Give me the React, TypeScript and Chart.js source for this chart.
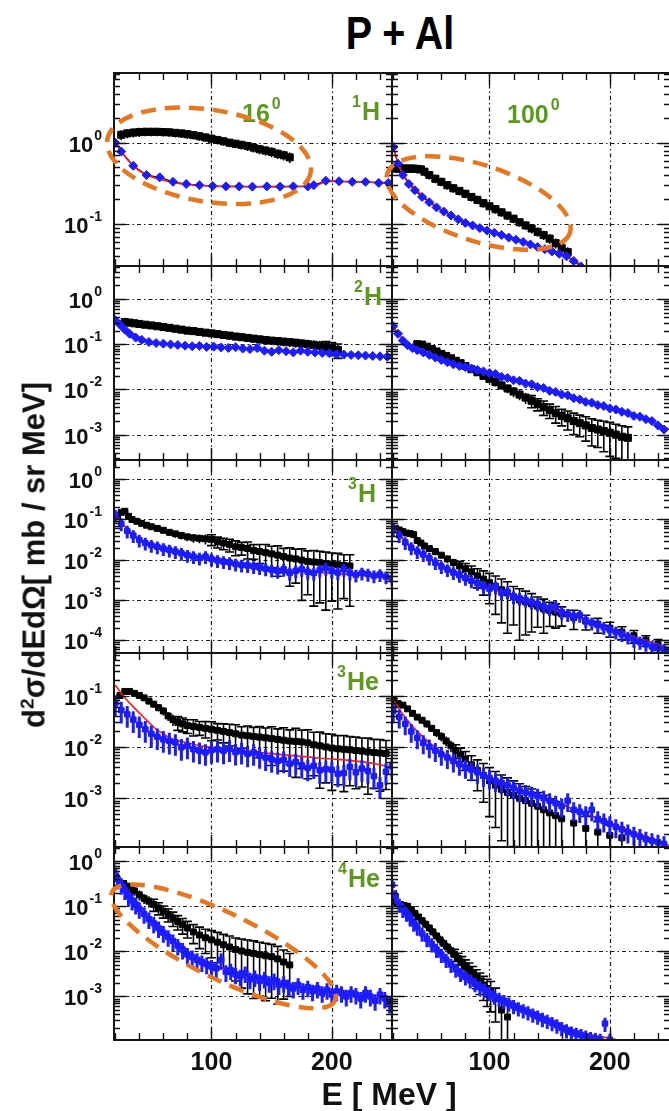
import React, { useEffect, useRef } from "react";
import { Chart, registerables } from "chart.js";
Chart.register(...registerables);

const FONT = '"Liberation Sans", Arial, Helvetica, sans-serif';
const GREEN = "#5b9a1c";
const ORANGE = "#e8761e";
const BLUE = "#1c1cff";
const RED = "#ff1a1a";

// ---- axes ----
const X_MIN = 19;
const X_MAX = 250;
const X_TICKS = [100, 200];
const X_TICK_LABELS = ["100", "200"];
const X_MINOR_TICKS = [20, 40, 60, 80, 120, 140, 160, 180, 220, 240];
const Y_MIN = [0.0304, 2.75e-4, 4.83e-5, 1.13e-4, 1.08e-4];
const Y_MAX = [7.2, 5.37, 3.0, 0.671, 2.07];
const Y_TICKS = [
  [1, 0.1],
  [1, 0.1, 0.01, 0.001],
  [1, 0.1, 0.01, 0.001, 0.0001],
  [0.1, 0.01, 0.001],
  [1, 0.1, 0.01, 0.001],
];
const Y_TICK_EXPONENTS = [
  ["0", "-1"],
  ["0", "-1", "-2", "-3"],
  ["0", "-1", "-2", "-3", "-4"],
  ["-1", "-2", "-3"],
  ["0", "-1", "-2", "-3"],
];

// ---- layout (page pixels) ----
const COL_LEFT = [114, 392];
const COL_RIGHT = [392, 670];
const ROW_TOP = [73, 266, 460, 653, 847];
const ROW_BOTTOM = [266, 460, 653, 847, 1040];

// ---- data: 1H 16 deg ----
const H1_16_EXP_E = [25, 30, 35, 40, 45, 50, 55, 60, 65, 70, 75, 80, 85, 90, 95, 100, 105, 110, 115, 120, 125, 130, 135, 140, 145, 150, 155, 160, 165];
const H1_16_EXP_V = [1.25, 1.3, 1.33, 1.35, 1.36, 1.36, 1.36, 1.35, 1.34, 1.32, 1.3, 1.27, 1.24, 1.2, 1.16, 1.12, 1.08, 1.04, 1.0, 0.97, 0.94, 0.91, 0.87, 0.83, 0.8, 0.77, 0.73, 0.7, 0.66];
const H1_16_EXP_ERR = [0.14, 0.13, 0.13, 0.13, 0.12, 0.12, 0.12, 0.12, 0.12, 0.12, 0.12, 0.12, 0.12, 0.12, 0.12, 0.12, 0.12, 0.12, 0.12, 0.12, 0.12, 0.13, 0.13, 0.13, 0.13, 0.14, 0.14, 0.14, 0.15];
const H1_16_BLUE_E = [20, 25, 35, 46, 57, 68, 79, 90, 101, 112, 123, 134, 146, 157, 168, 180, 185, 195, 206, 217, 228, 239, 247];
const H1_16_BLUE_V = [1.0, 0.78, 0.52, 0.4, 0.375, 0.33, 0.31, 0.3, 0.293, 0.29, 0.29, 0.288, 0.29, 0.288, 0.29, 0.29, 0.3, 0.34, 0.335, 0.33, 0.33, 0.32, 0.32];
const H1_16_RED_E = [20, 23, 26, 30, 35, 40, 46, 52, 60, 70, 80, 90, 100, 120, 140, 160, 180, 188, 194, 200, 220, 250];
const H1_16_RED_V = [1.05, 0.88, 0.74, 0.62, 0.52, 0.45, 0.4, 0.37, 0.345, 0.32, 0.305, 0.297, 0.292, 0.288, 0.287, 0.288, 0.29, 0.3, 0.33, 0.335, 0.33, 0.32];

// ---- data: 1H 100 deg ----
const H1_100_EXP_E = [22, 25, 28, 31, 34, 37, 40, 43, 46, 50, 55, 60, 65, 70, 75, 80, 85, 90, 95, 100, 105, 110, 115, 120, 125, 130, 135, 140, 145, 150, 155, 160, 165];
const H1_100_EXP_V = [0.48, 0.48, 0.48, 0.48, 0.48, 0.48, 0.475, 0.47, 0.44, 0.4, 0.36, 0.33, 0.3, 0.275, 0.255, 0.235, 0.215, 0.198, 0.18, 0.165, 0.152, 0.139, 0.127, 0.116, 0.105, 0.096, 0.088, 0.08, 0.073, 0.066, 0.058, 0.051, 0.045];
const H1_100_EXP_ERR = [0.12, 0.12, 0.12, 0.12, 0.12, 0.12, 0.12, 0.12, 0.12, 0.12, 0.12, 0.12, 0.12, 0.12, 0.12, 0.12, 0.12, 0.12, 0.12, 0.12, 0.12, 0.12, 0.12, 0.12, 0.12, 0.12, 0.13, 0.13, 0.13, 0.14, 0.14, 0.15, 0.15];
const H1_100_BLUE_E = [20, 24, 28, 33, 38, 44, 50, 56, 62, 68, 74, 80, 86, 92, 98, 104, 110, 116, 122, 128, 134, 140, 146, 152, 158, 164, 170, 176];
const H1_100_BLUE_V = [0.88, 0.55, 0.4, 0.31, 0.26, 0.215, 0.185, 0.16, 0.142, 0.127, 0.114, 0.103, 0.096, 0.089, 0.083, 0.078, 0.073, 0.068, 0.064, 0.06, 0.056, 0.052, 0.049, 0.046, 0.043, 0.04, 0.035, 0.03];
const H1_100_RED_E = [20, 23, 26, 30, 35, 40, 50, 60, 70, 80, 90, 100, 110, 120, 130, 140, 150, 160, 170, 180];
const H1_100_RED_V = [0.9, 0.62, 0.47, 0.37, 0.3, 0.255, 0.19, 0.15, 0.125, 0.107, 0.094, 0.084, 0.075, 0.067, 0.06, 0.054, 0.048, 0.043, 0.036, 0.029];

// ---- data: 2H 16 deg ----
const H2_16_EXP_E = [28, 32, 36, 40, 45, 50, 55, 60, 65, 70, 75, 80, 85, 90, 95, 100, 105, 110, 115, 120, 125, 130, 135, 140, 145, 150, 155, 160, 165, 170, 175, 180, 185, 190, 195, 200, 205];
const H2_16_EXP_V = [0.31, 0.3, 0.29, 0.28, 0.27, 0.26, 0.25, 0.24, 0.23, 0.22, 0.21, 0.2, 0.195, 0.187, 0.18, 0.174, 0.167, 0.16, 0.155, 0.148, 0.143, 0.138, 0.133, 0.128, 0.124, 0.12, 0.117, 0.114, 0.111, 0.108, 0.104, 0.1, 0.097, 0.093, 0.088, 0.082, 0.075];
const H2_16_EXP_ERR = [0.15, 0.15, 0.15, 0.15, 0.15, 0.15, 0.15, 0.15, 0.15, 0.15, 0.15, 0.15, 0.15, 0.16, 0.16, 0.16, 0.17, 0.17, 0.18, 0.18, 0.18, 0.19, 0.19, 0.2, 0.2, 0.2, 0.21, 0.22, 0.22, 0.23, 0.24, 0.25, 0.26, 0.28, 0.3, 0.32, 0.35];
const H2_16_BLUE_E = [20, 24, 28, 32, 37, 42, 48, 54, 60, 66, 72, 78, 84, 90, 96, 102, 108, 114, 120, 126, 132, 138, 144, 150, 156, 162, 168, 174, 180, 186, 192, 198, 204, 210, 216, 222, 228, 234, 240, 246];
const H2_16_BLUE_V = [0.34, 0.27, 0.21, 0.17, 0.14, 0.125, 0.112, 0.106, 0.103, 0.099, 0.096, 0.093, 0.09, 0.092, 0.087, 0.088, 0.085, 0.083, 0.086, 0.08, 0.078, 0.082, 0.072, 0.068, 0.074, 0.07, 0.066, 0.072, 0.068, 0.066, 0.064, 0.063, 0.06, 0.059, 0.058, 0.057, 0.056, 0.055, 0.054, 0.053];
const H2_16_RED_E = [20, 25, 30, 35, 40, 50, 60, 70, 80, 100, 120, 140, 160, 180, 200, 220, 250];
const H2_16_RED_V = [0.36, 0.27, 0.21, 0.17, 0.14, 0.115, 0.104, 0.097, 0.092, 0.087, 0.082, 0.075, 0.07, 0.066, 0.062, 0.058, 0.053];

// ---- data: 2H 100 deg ----
const H2_100_EXP_E = [40, 44, 48, 52, 56, 60, 64, 68, 72, 76, 80, 85, 90, 95, 100, 105, 110, 115, 120, 125, 130, 135, 140, 145, 150, 155, 160, 165, 170, 175, 180, 185, 190, 195, 200, 205, 210, 215];
const H2_100_EXP_V = [0.1, 0.098, 0.088, 0.078, 0.069, 0.061, 0.055, 0.049, 0.043, 0.038, 0.033, 0.028, 0.024, 0.02, 0.017, 0.0145, 0.0123, 0.0105, 0.009, 0.0077, 0.0066, 0.0056, 0.0048, 0.0041, 0.0035, 0.003, 0.0026, 0.0023, 0.002, 0.0018, 0.0016, 0.0014, 0.0013, 0.0012, 0.0011, 0.001, 0.0009, 0.00085];
const H2_100_EXP_ERR = [0.1, 0.1, 0.1, 0.1, 0.1, 0.1, 0.1, 0.12, 0.12, 0.12, 0.14, 0.14, 0.16, 0.16, 0.18, 0.2, 0.2, 0.22, 0.25, 0.25, 0.28, 0.3, 0.3, 0.35, 0.35, 0.4, 0.4, 0.45, 0.5, 0.5, 0.55, 0.6, 0.6, 0.65, 0.7, 0.7, 0.75, 0.75];
const H2_100_BLUE_E = [20, 24, 28, 32, 36, 40, 45, 50, 55, 60, 65, 70, 75, 80, 85, 90, 95, 100, 105, 110, 115, 120, 125, 130, 135, 140, 145, 150, 155, 160, 165, 170, 175, 180, 185, 190, 195, 200, 205, 210, 215, 220, 225, 230, 235, 240, 245];
const H2_100_BLUE_V = [0.25, 0.17, 0.12, 0.095, 0.082, 0.074, 0.066, 0.058, 0.051, 0.045, 0.04, 0.036, 0.033, 0.031, 0.029, 0.027, 0.025, 0.023, 0.022, 0.019, 0.018, 0.016, 0.0155, 0.0135, 0.013, 0.0113, 0.0108, 0.0093, 0.0088, 0.0077, 0.0074, 0.0064, 0.006, 0.0053, 0.0051, 0.0045, 0.0043, 0.0038, 0.0036, 0.0032, 0.003, 0.0026, 0.0025, 0.0022, 0.002, 0.0016, 0.0013];
const H2_100_RED_E = [20, 25, 30, 35, 40, 50, 60, 70, 80, 90, 100, 120, 140, 160, 180, 200, 220, 240, 250];
const H2_100_RED_V = [0.24, 0.16, 0.11, 0.088, 0.075, 0.058, 0.045, 0.036, 0.031, 0.027, 0.023, 0.0165, 0.0115, 0.0078, 0.0054, 0.0038, 0.0027, 0.0017, 0.0013];

// ---- shared energy grid for dense model points ----
const BLUE_E_STEP5 = [20, 25, 30, 35, 40, 45, 50, 55, 60, 65, 70, 75, 80, 85, 90, 95, 100, 105, 110, 115, 120, 125, 130, 135, 140, 145, 150, 155, 160, 165, 170, 175, 180, 185, 190, 195, 200, 205, 210, 215, 220, 225, 230, 235, 240, 245, 250];

// ---- data: 3H 16 deg ----
const H3_16_EXP_E = [22, 25, 28, 31, 34, 38, 42, 46, 50, 55, 60, 65, 70, 75, 80, 85, 90, 95, 100, 105, 110, 115, 120, 125, 130, 135, 140, 145, 150, 155, 160, 165, 170, 175, 180, 185, 190, 195, 200, 205, 210, 215];
const H3_16_EXP_V = [0.12, 0.15, 0.16, 0.12, 0.1, 0.09, 0.08, 0.072, 0.066, 0.06, 0.054, 0.048, 0.044, 0.04, 0.037, 0.035, 0.034, 0.033, 0.032, 0.028, 0.026, 0.024, 0.021, 0.02, 0.019, 0.017, 0.016, 0.015, 0.014, 0.013, 0.012, 0.011, 0.0105, 0.0098, 0.009, 0.0088, 0.0085, 0.008, 0.0078, 0.0075, 0.0072, 0.007];
const H3_16_EXP_ERR = [0.1, 0.1, 0.1, 0.12, 0.12, 0.12, 0.14, 0.14, 0.15, 0.15, 0.16, 0.18, 0.2, 0.2, 0.22, 0.25, 0.25, 0.28, 0.3, 0.3, 0.32, 0.35, 0.4, 0.35, 0.45, 0.4, 0.5, 0.6, 0.55, 0.7, 0.6, 0.8, 0.75, 0.9, 0.85, 0.92, 0.9, 0.93, 0.88, 0.92, 0.85, 0.9];
const H3_16_BLUE_V = [0.13, 0.078, 0.052, 0.04, 0.031, 0.026, 0.023, 0.021, 0.019, 0.0175, 0.016, 0.0145, 0.013, 0.012, 0.011, 0.012, 0.0105, 0.0096, 0.009, 0.0086, 0.0078, 0.0074, 0.0072, 0.0068, 0.0064, 0.006, 0.0056, 0.0052, 0.0058, 0.0047, 0.0053, 0.0058, 0.005, 0.0047, 0.0056, 0.0062, 0.0052, 0.0048, 0.0058, 0.0047, 0.0042, 0.0047, 0.0044, 0.004, 0.0043, 0.0038, 0.0034];
const H3_16_RED_E = [20, 25, 30, 35, 40, 50, 60, 70, 80, 90, 100, 120, 140, 160, 180, 200, 220, 240, 250];
const H3_16_RED_V = [0.14, 0.085, 0.057, 0.042, 0.033, 0.024, 0.019, 0.0158, 0.0133, 0.0115, 0.01, 0.008, 0.0066, 0.0057, 0.005, 0.0046, 0.0042, 0.0037, 0.0034];

// ---- data: 3H 100 deg ----
const H3_100_EXP_E = [22, 25, 28, 31, 34, 37, 40, 43, 46, 50, 55, 60, 65, 70, 75, 80, 85, 90, 95, 100, 105, 110, 115, 120, 125, 130, 135, 140, 145, 150, 155, 160, 170, 180, 190, 200, 210, 220, 230, 240];
const H3_100_EXP_V = [0.06, 0.055, 0.05, 0.046, 0.045, 0.042, 0.03, 0.026, 0.022, 0.019, 0.016, 0.013, 0.0105, 0.0085, 0.007, 0.006, 0.005, 0.004, 0.0033, 0.0027, 0.0022, 0.0018, 0.0015, 0.0012, 0.001, 0.0009, 0.0008, 0.0007, 0.0006, 0.00055, 0.0005, 0.00045, 0.00037, 0.0003, 0.00025, 0.0002, 0.00016, 0.00013, 0.0001, 0.00008];
const H3_100_EXP_ERR = [0.1, 0.1, 0.1, 0.12, 0.12, 0.12, 0.15, 0.15, 0.15, 0.18, 0.2, 0.2, 0.22, 0.25, 0.3, 0.35, 0.4, 0.5, 0.6, 0.7, 0.8, 0.85, 0.9, 0.8, 0.9, 0.85, 0.8, 0.7, 0.75, 0.6, 0.6, 0.5, 0.5, 0.4, 0.4, 0.4, 0.35, 0.35, 0.3, 0.3];
const H3_100_BLUE_V = [0.06, 0.04, 0.027, 0.02, 0.016, 0.0135, 0.011, 0.0085, 0.0068, 0.0057, 0.0048, 0.0041, 0.0035, 0.003, 0.0026, 0.0022, 0.0019, 0.0021, 0.0015, 0.0016, 0.0012, 0.0011, 0.001, 0.0009, 0.0008, 0.0007, 0.00062, 0.0007, 0.0005, 0.00044, 0.0004, 0.00042, 0.00031, 0.00027, 0.00024, 0.00021, 0.00018, 0.00016, 0.00014, 0.00012, 0.0001, 0.00009, 0.00008, 0.00007, 0.000065, 0.00006, 0.000055];
const H3_100_RED_E = [20, 25, 30, 35, 40, 50, 60, 70, 80, 90, 100, 120, 140, 160, 180, 200, 220, 240, 250];
const H3_100_RED_V = [0.065, 0.042, 0.029, 0.021, 0.016, 0.011, 0.0075, 0.0052, 0.0037, 0.0027, 0.002, 0.0012, 0.00078, 0.0005, 0.00032, 0.0002, 0.00012, 0.00008, 0.00006];

// ---- data: 3He 16 deg ----
const HE3_16_EXP_E = [24, 28, 32, 36, 40, 44, 48, 52, 56, 60, 64, 68, 72, 76, 80, 85, 90, 95, 100, 105, 110, 115, 120, 125, 130, 135, 140, 145, 150, 155, 160, 165, 170, 175, 180, 185, 190, 195, 200, 205, 210, 215, 220, 225, 230, 235, 240, 245];
const HE3_16_EXP_V = [0.1, 0.12, 0.12, 0.11, 0.1, 0.09, 0.078, 0.068, 0.058, 0.05, 0.04, 0.034, 0.03, 0.028, 0.026, 0.025, 0.024, 0.023, 0.022, 0.021, 0.02, 0.019, 0.018, 0.017, 0.0165, 0.016, 0.0155, 0.015, 0.0145, 0.014, 0.0135, 0.013, 0.0128, 0.0125, 0.012, 0.011, 0.0105, 0.01, 0.0095, 0.0092, 0.009, 0.0088, 0.0085, 0.0083, 0.008, 0.0078, 0.0076, 0.0074];
const HE3_16_EXP_ERR = [0.12, 0.1, 0.1, 0.1, 0.12, 0.12, 0.14, 0.15, 0.16, 0.18, 0.2, 0.25, 0.3, 0.3, 0.3, 0.35, 0.3, 0.35, 0.4, 0.35, 0.4, 0.45, 0.5, 0.45, 0.55, 0.5, 0.6, 0.55, 0.7, 0.6, 0.75, 0.65, 0.8, 0.7, 0.8, 0.75, 0.85, 0.8, 0.85, 0.8, 0.85, 0.8, 0.82, 0.8, 0.85, 0.8, 0.82, 0.8];
const HE3_16_BLUE_V = [0.07, 0.052, 0.043, 0.034, 0.027, 0.022, 0.018, 0.0158, 0.014, 0.013, 0.0122, 0.0098, 0.0105, 0.009, 0.0084, 0.0078, 0.0086, 0.009, 0.0084, 0.0092, 0.0079, 0.0083, 0.0073, 0.0078, 0.0068, 0.0062, 0.0057, 0.0053, 0.0056, 0.0047, 0.0051, 0.0044, 0.0039, 0.0043, 0.0035, 0.0037, 0.0036, 0.003, 0.0031, 0.0041, 0.0032, 0.0038, 0.0034, 0.0027, 0.0018, 0.0033, 0.0042];
const HE3_16_RED_E = [20, 25, 30, 35, 40, 45, 50, 55, 60, 65, 70, 80, 90, 100, 110, 120, 130, 140, 150, 160, 170, 180, 190, 200, 210, 220, 230, 240, 250];
const HE3_16_RED_V = [0.16, 0.11, 0.08, 0.06, 0.046, 0.035, 0.027, 0.021, 0.018, 0.015, 0.0135, 0.012, 0.0105, 0.0098, 0.0092, 0.0086, 0.0082, 0.0078, 0.0074, 0.007, 0.0067, 0.0064, 0.006, 0.0058, 0.0056, 0.0053, 0.005, 0.0045, 0.004];

// ---- data: 3He 100 deg ----
const HE3_100_EXP_E = [20, 24, 28, 32, 36, 40, 44, 48, 52, 56, 60, 64, 68, 72, 76, 80, 85, 90, 95, 100, 105, 110, 115, 120, 125, 130, 135, 140, 145, 150, 155, 160, 170, 180, 190, 200, 210];
const HE3_100_EXP_V = [0.08, 0.07, 0.065, 0.055, 0.045, 0.038, 0.033, 0.028, 0.023, 0.019, 0.016, 0.013, 0.0105, 0.0085, 0.007, 0.0058, 0.0045, 0.0035, 0.0028, 0.0022, 0.0018, 0.0015, 0.0013, 0.00115, 0.001, 0.0009, 0.0008, 0.0007, 0.0006, 0.00052, 0.00046, 0.0004, 0.00033, 0.00026, 0.00022, 0.00019, 0.00017];
const HE3_100_EXP_ERR = [0.1, 0.1, 0.1, 0.1, 0.12, 0.12, 0.14, 0.15, 0.15, 0.18, 0.2, 0.22, 0.25, 0.3, 0.35, 0.4, 0.5, 0.6, 0.7, 0.8, 0.85, 0.9, 0.92, 0.9, 0.92, 0.88, 0.9, 0.85, 0.9, 0.8, 0.85, 0.8, 0.7, 0.7, 0.6, 0.6, 0.5];
const HE3_100_BLUE_E = [20, 25, 30, 35, 40, 45, 50, 55, 60, 65, 70, 75, 80, 85, 90, 95, 100, 105, 110, 115, 120, 125, 130, 135, 140, 145, 150, 155, 160, 165, 170, 175, 180, 185, 190, 195, 200, 205, 210, 215, 220, 225, 230, 235, 240, 245];
const HE3_100_BLUE_V = [0.05, 0.038, 0.028, 0.02, 0.015, 0.012, 0.01, 0.0085, 0.0072, 0.0062, 0.0053, 0.0046, 0.004, 0.0036, 0.0032, 0.0028, 0.0025, 0.0022, 0.002, 0.0018, 0.0016, 0.0014, 0.0013, 0.0012, 0.0011, 0.001, 0.0009, 0.0008, 0.0007, 0.0009, 0.0006, 0.00055, 0.0005, 0.0006, 0.0004, 0.00036, 0.00032, 0.00028, 0.00025, 0.00022, 0.0002, 0.00018, 0.00016, 0.00015, 0.00014, 0.00013];
const HE3_100_RED_E = [20, 25, 30, 35, 40, 45, 50, 60, 70, 80, 90, 100, 120, 140, 160, 180, 200, 220, 240, 250];
const HE3_100_RED_V = [0.085, 0.055, 0.037, 0.027, 0.02, 0.0155, 0.012, 0.008, 0.0057, 0.0042, 0.0033, 0.0026, 0.0017, 0.0011, 0.00075, 0.0005, 0.00034, 0.00022, 0.00015, 0.00012];

// ---- data: 4He 16 deg ----
const HE4_16_EXP_E = [24, 27, 30, 33, 36, 40, 44, 48, 52, 56, 60, 64, 68, 72, 76, 80, 85, 90, 95, 100, 105, 110, 115, 120, 125, 130, 135, 140, 145, 150, 155, 160, 165];
const HE4_16_EXP_V = [0.33, 0.32, 0.28, 0.25, 0.22, 0.18, 0.15, 0.13, 0.11, 0.092, 0.078, 0.066, 0.055, 0.046, 0.039, 0.033, 0.027, 0.023, 0.02, 0.018, 0.016, 0.014, 0.0125, 0.011, 0.0102, 0.0095, 0.009, 0.0085, 0.008, 0.0076, 0.0068, 0.0058, 0.005];
const HE4_16_EXP_ERR = [0.15, 0.15, 0.18, 0.2, 0.22, 0.25, 0.25, 0.28, 0.3, 0.3, 0.3, 0.32, 0.35, 0.35, 0.38, 0.4, 0.45, 0.5, 0.55, 0.6, 0.65, 0.7, 0.75, 0.8, 0.85, 0.88, 0.9, 0.88, 0.9, 0.88, 0.9, 0.85, 0.8];
const HE4_16_BLUE_E = [19, 22, 25, 28, 31, 34, 37, 40, 44, 48, 52, 56, 60, 64, 68, 72, 76, 80, 84, 88, 92, 96, 100, 104, 108, 112, 116, 120, 124, 128, 132, 136, 140, 144, 148, 152, 156, 160, 164, 168, 172, 176, 180, 184, 188, 192, 196, 200, 204, 208, 212, 216, 220, 224, 228, 232, 236, 240, 244, 248];
const HE4_16_BLUE_V = [0.6, 0.4, 0.3, 0.23, 0.17, 0.135, 0.11, 0.088, 0.068, 0.052, 0.042, 0.033, 0.026, 0.021, 0.017, 0.0135, 0.011, 0.0085, 0.0075, 0.0065, 0.0058, 0.0052, 0.0046, 0.0042, 0.0065, 0.0035, 0.0038, 0.0031, 0.0028, 0.0033, 0.0024, 0.0027, 0.0022, 0.0025, 0.002, 0.0023, 0.0018, 0.002, 0.0017, 0.0015, 0.0018, 0.0014, 0.0016, 0.0013, 0.0015, 0.0012, 0.0014, 0.0011, 0.0013, 0.0012, 0.001, 0.0012, 0.0011, 0.0009, 0.0012, 0.001, 0.0008, 0.0011, 0.0009, 0.0007];
const HE4_16_RED_E = [20, 25, 30, 35, 40, 50, 60, 70, 80, 90, 100, 110, 120, 130, 140, 150, 160, 170, 180, 190, 200, 210, 220, 230, 240, 250];
const HE4_16_RED_V = [0.45, 0.28, 0.18, 0.125, 0.088, 0.045, 0.025, 0.015, 0.0095, 0.0068, 0.0052, 0.0042, 0.0035, 0.003, 0.0025, 0.0022, 0.0019, 0.0017, 0.0015, 0.0014, 0.0013, 0.0012, 0.0011, 0.001, 0.0009, 0.0008];

// ---- data: 4He 100 deg ----
const HE4_100_EXP_E = [20, 23, 26, 29, 32, 35, 38, 41, 44, 47, 50, 53, 56, 59, 62, 65, 68, 71, 74, 77, 80, 83, 86, 89, 92, 95, 98, 101, 105, 110, 115];
const HE4_100_EXP_V = [0.13, 0.12, 0.11, 0.105, 0.1, 0.085, 0.07, 0.058, 0.048, 0.04, 0.033, 0.027, 0.022, 0.018, 0.015, 0.0125, 0.0103, 0.0085, 0.007, 0.0058, 0.0048, 0.004, 0.0033, 0.0027, 0.0022, 0.0018, 0.0015, 0.0013, 0.0009, 0.0005, 0.00035];
const HE4_100_EXP_ERR = [0.15, 0.15, 0.15, 0.15, 0.15, 0.15, 0.18, 0.18, 0.2, 0.2, 0.2, 0.22, 0.22, 0.25, 0.25, 0.25, 0.28, 0.3, 0.3, 0.32, 0.35, 0.38, 0.4, 0.45, 0.5, 0.55, 0.6, 0.65, 0.7, 0.8, 0.85];
const HE4_100_BLUE_E = [19, 22, 25, 28, 31, 34, 37, 40, 44, 48, 52, 56, 60, 64, 68, 72, 76, 80, 84, 88, 92, 96, 100, 104, 108, 112, 116, 120, 124, 128, 132, 136, 140, 144, 148, 152, 156, 160, 164, 168, 172, 176, 180, 184, 188, 192, 196, 200];
const HE4_100_BLUE_V = [0.3, 0.17, 0.11, 0.085, 0.07, 0.055, 0.042, 0.034, 0.025, 0.019, 0.0145, 0.011, 0.0085, 0.0066, 0.0051, 0.004, 0.0032, 0.0027, 0.0023, 0.0019, 0.0016, 0.0014, 0.0012, 0.001, 0.0009, 0.0008, 0.0007, 0.00062, 0.00055, 0.0005, 0.00045, 0.0004, 0.00036, 0.00032, 0.00029, 0.00026, 0.00023, 0.0002, 0.00018, 0.00016, 0.00015, 0.00014, 0.00013, 0.00012, 0.000115, 0.00011, 0.00025, 0.00011];
const HE4_100_RED_E = [20, 25, 30, 35, 40, 50, 60, 70, 80, 90, 100, 110, 120, 130, 140, 150, 160, 170, 180, 190, 200, 205];
const HE4_100_RED_V = [0.22, 0.11, 0.075, 0.05, 0.034, 0.017, 0.0088, 0.0048, 0.0028, 0.0018, 0.0012, 0.00085, 0.00062, 0.00048, 0.00038, 0.0003, 0.00023, 0.00018, 0.00015, 0.00013, 0.00012, 0.00011];

type Seg = { t: string; sup?: boolean };
type GreenLabel = { x: number; base: number; parts: Seg[] };
type Ellipse = { e: number; v: number; a: number; b: number; rot: number };
type PanelDef = {
  row: number;
  col: number;
  expE: number[];
  expV: number[];
  expErr: number[];
  blueE: number[];
  blueV: number[];
  blueErr: number;
  redE: number[];
  redV: number[];
  blackLine?: boolean;
  labels: GreenLabel[];
  ellipse?: Ellipse;
};

const nuc = (x: number, base: number, a: string, s: string): GreenLabel => ({
  x,
  base,
  parts: [{ t: a, sup: true }, { t: s }],
});

const PANELS: PanelDef[] = [
  {
    row: 0, col: 0,
    expE: H1_16_EXP_E, expV: H1_16_EXP_V, expErr: H1_16_EXP_ERR,
    blueE: H1_16_BLUE_E, blueV: H1_16_BLUE_V, blueErr: 0.08,
    redE: H1_16_RED_E, redV: H1_16_RED_V, blackLine: true,
    labels: [{ x: 128, base: 49, parts: [{ t: "16" }, { t: "0", sup: true }] }, nuc(238, 47, "1", "H")],
    ellipse: { e: 98, v: 0.69, a: 103, b: 46, rot: 9 },
  },
  {
    row: 0, col: 1,
    expE: H1_100_EXP_E, expV: H1_100_EXP_V, expErr: H1_100_EXP_ERR,
    blueE: H1_100_BLUE_E, blueV: H1_100_BLUE_V, blueErr: 0.08,
    redE: H1_100_RED_E, redV: H1_100_RED_V, blackLine: true,
    labels: [{ x: 115, base: 50, parts: [{ t: "100" }, { t: "0", sup: true }] }],
    ellipse: { e: 91, v: 0.181, a: 96, b: 38, rot: 18 },
  },
  {
    row: 1, col: 0,
    expE: H2_16_EXP_E, expV: H2_16_EXP_V, expErr: H2_16_EXP_ERR,
    blueE: H2_16_BLUE_E, blueV: H2_16_BLUE_V, blueErr: 0.1,
    redE: H2_16_RED_E, redV: H2_16_RED_V,
    labels: [nuc(240, 39, "2", "H")],
  },
  {
    row: 1, col: 1,
    expE: H2_100_EXP_E, expV: H2_100_EXP_V, expErr: H2_100_EXP_ERR,
    blueE: H2_100_BLUE_E, blueV: H2_100_BLUE_V, blueErr: 0.18,
    redE: H2_100_RED_E, redV: H2_100_RED_V,
    labels: [],
  },
  {
    row: 2, col: 0,
    expE: H3_16_EXP_E, expV: H3_16_EXP_V, expErr: H3_16_EXP_ERR,
    blueE: BLUE_E_STEP5, blueV: H3_16_BLUE_V, blueErr: 0.35,
    redE: H3_16_RED_E, redV: H3_16_RED_V,
    labels: [nuc(234, 42, "3", "H")],
  },
  {
    row: 2, col: 1,
    expE: H3_100_EXP_E, expV: H3_100_EXP_V, expErr: H3_100_EXP_ERR,
    blueE: BLUE_E_STEP5, blueV: H3_100_BLUE_V, blueErr: 0.35,
    redE: H3_100_RED_E, redV: H3_100_RED_V,
    labels: [],
  },
  {
    row: 3, col: 0,
    expE: HE3_16_EXP_E, expV: HE3_16_EXP_V, expErr: HE3_16_EXP_ERR,
    blueE: BLUE_E_STEP5, blueV: HE3_16_BLUE_V, blueErr: 0.45,
    redE: HE3_16_RED_E, redV: HE3_16_RED_V,
    labels: [nuc(223, 37, "3", "He")],
  },
  {
    row: 3, col: 1,
    expE: HE3_100_EXP_E, expV: HE3_100_EXP_V, expErr: HE3_100_EXP_ERR,
    blueE: HE3_100_BLUE_E, blueV: HE3_100_BLUE_V, blueErr: 0.4,
    redE: HE3_100_RED_E, redV: HE3_100_RED_V,
    labels: [],
  },
  {
    row: 4, col: 0,
    expE: HE4_16_EXP_E, expV: HE4_16_EXP_V, expErr: HE4_16_EXP_ERR,
    blueE: HE4_16_BLUE_E, blueV: HE4_16_BLUE_V, blueErr: 0.4,
    redE: HE4_16_RED_E, redV: HE4_16_RED_V,
    labels: [nuc(224, 40, "4", "He")],
    ellipse: { e: 110, v: 0.0129, a: 124, b: 33, rot: 26 },
  },
  {
    row: 4, col: 1,
    expE: HE4_100_EXP_E, expV: HE4_100_EXP_V, expErr: HE4_100_EXP_ERR,
    blueE: HE4_100_BLUE_E, blueV: HE4_100_BLUE_V, blueErr: 0.35,
    redE: HE4_100_RED_E, redV: HE4_100_RED_V,
    labels: [],
  },
];

const xy = (xs: number[], ys: number[]) => xs.map((x, i) => ({ x, y: ys[i] }));

function makeDeco(p: PanelDef) {
  return {
    id: "panelDeco",
    beforeDatasetsDraw(chart: any) {
      const { ctx, chartArea: a, scales } = chart;
      const xs = scales.x;
      const ys = scales.y;
      ctx.save();
      ctx.beginPath();
      ctx.rect(a.left, a.top, a.right - a.left, a.bottom - a.top);
      ctx.clip();
      ctx.strokeStyle = "#1a1a1a";
      ctx.lineWidth = 1.2;
      ctx.setLineDash([4, 3, 1.5, 3]);
      for (const v of X_TICKS) {
        const x = Math.round(xs.getPixelForValue(v)) + 0.5;
        ctx.beginPath();
        ctx.moveTo(x, a.top);
        ctx.lineTo(x, a.bottom);
        ctx.stroke();
      }
      for (const v of Y_TICKS[p.row]) {
        const y = Math.round(ys.getPixelForValue(v)) + 0.5;
        ctx.beginPath();
        ctx.moveTo(a.left, y);
        ctx.lineTo(a.right, y);
        ctx.stroke();
      }
      ctx.restore();
    },
    beforeDatasetDraw(chart: any, args: any) {
      const ds = chart.data.datasets[args.index];
      if (ds.errRel === undefined) return;
      const { ctx, chartArea: a, scales } = chart;
      const xs = scales.x;
      const ys = scales.y;
      ctx.save();
      ctx.beginPath();
      ctx.rect(a.left, a.top, a.right - a.left, a.bottom - a.top);
      ctx.clip();
      ctx.setLineDash([]);
      ctx.strokeStyle = ds.errColor;
      ctx.lineWidth = ds.errWidth;
      ctx.beginPath();
      ds.data.forEach((pt: any, i: number) => {
        const f = Array.isArray(ds.errRel) ? ds.errRel[i] : ds.errRel;
        const x = xs.getPixelForValue(pt.x);
        const lo = pt.y * (1 - f);
        const hi = pt.y * (1 + f);
        const yLo = lo > 0 ? ys.getPixelForValue(lo) : a.bottom + 10;
        const yHi = ys.getPixelForValue(hi);
        ctx.moveTo(x, yLo);
        ctx.lineTo(x, yHi);
        if (ds.capHalf && f >= 0.3) {
          ctx.moveTo(x - ds.capHalf, yLo);
          ctx.lineTo(x + ds.capHalf, yLo);
          ctx.moveTo(x - ds.capHalf, yHi);
          ctx.lineTo(x + ds.capHalf, yHi);
        }
      });
      ctx.stroke();
      if (ds.binHalf) {
        ctx.lineWidth = ds.binWidth;
        ctx.beginPath();
        ds.data.forEach((pt: any) => {
          const y = ys.getPixelForValue(pt.y);
          ctx.moveTo(xs.getPixelForValue(pt.x - ds.binHalf), y);
          ctx.lineTo(xs.getPixelForValue(pt.x + ds.binHalf), y);
        });
        ctx.stroke();
      }
      ctx.restore();
    },
    afterDatasetsDraw(chart: any) {
      const { ctx, chartArea: a, scales } = chart;
      const xs = scales.x;
      const ys = scales.y;
      ctx.save();
      ctx.setLineDash([]);
      ctx.strokeStyle = "#111";
      ctx.lineWidth = 1.4;
      ctx.beginPath();
      const xt = (v: number, len: number) => {
        const x = Math.round(xs.getPixelForValue(v)) + 0.5;
        ctx.moveTo(x, a.top);
        ctx.lineTo(x, a.top + len);
        ctx.moveTo(x, a.bottom);
        ctx.lineTo(x, a.bottom - len);
      };
      X_MINOR_TICKS.forEach((v) => xt(v, 7));
      X_TICKS.forEach((v) => xt(v, 12));
      const yt = (v: number, len: number) => {
        const y = Math.round(ys.getPixelForValue(v)) + 0.5;
        ctx.moveTo(a.left, y);
        ctx.lineTo(a.left + len, y);
        ctx.moveTo(a.right, y);
        ctx.lineTo(a.right - len, y);
      };
      const lo = Math.floor(Math.log10(Y_MIN[p.row]));
      const hi = Math.floor(Math.log10(Y_MAX[p.row]));
      for (let d = lo; d <= hi; d++) {
        for (let k = 2; k <= 9; k++) {
          const v = k * Math.pow(10, d);
          if (v > Y_MIN[p.row] && v < Y_MAX[p.row]) yt(v, 6);
        }
      }
      Y_TICKS[p.row].forEach((v) => yt(v, 12));
      ctx.stroke();
      ctx.lineWidth = 2;
      ctx.strokeStyle = "#151515";
      ctx.strokeRect(a.left, a.top, a.right - a.left, a.bottom - a.top);
      ctx.restore();
    },
    afterDraw(chart: any) {
      const { ctx, chartArea: a, scales } = chart;
      const xs = scales.x;
      const ys = scales.y;
      ctx.save();
      ctx.fillStyle = "#111";
      ctx.textBaseline = "alphabetic";
      if (p.col === 0) {
        Y_TICKS[p.row].forEach((v, i) => {
          const y = ys.getPixelForValue(v);
          const ex = Y_TICK_EXPONENTS[p.row][i];
          ctx.font = `bold 22px ${FONT}`;
          const w1 = ctx.measureText("10").width;
          ctx.font = `bold 14px ${FONT}`;
          const w2 = ctx.measureText(ex).width;
          const x0 = a.left - 12 - (w1 + 1 + w2);
          ctx.textAlign = "left";
          ctx.font = `bold 22px ${FONT}`;
          ctx.fillText("10", x0, y + 9);
          ctx.font = `bold 14px ${FONT}`;
          ctx.fillText(ex, x0 + w1 + 1, y - 3);
        });
      }
      if (p.row === 4) {
        ctx.textAlign = "center";
        ctx.font = `bold 25px ${FONT}`;
        X_TICKS.forEach((v, i) => {
          ctx.fillText(X_TICK_LABELS[i], xs.getPixelForValue(v), a.bottom + 30);
        });
      }
      ctx.textAlign = "left";
      ctx.fillStyle = GREEN;
      for (const lab of p.labels) {
        let cx = a.left + lab.x;
        const by = a.top + lab.base;
        for (const s of lab.parts) {
          ctx.font = s.sup ? `bold 16px ${FONT}` : `bold 25px ${FONT}`;
          ctx.fillText(s.t, cx, s.sup ? by - 13 : by);
          cx += ctx.measureText(s.t).width + (s.sup ? 1 : 2);
        }
      }
      if (p.ellipse) {
        const el = p.ellipse;
        const cx = xs.getPixelForValue(el.e);
        const cy = ys.getPixelForValue(el.v);
        ctx.strokeStyle = ORANGE;
        ctx.lineWidth = 4.5;
        ctx.setLineDash([15, 9]);
        ctx.beginPath();
        ctx.ellipse(cx, cy, el.a, el.b, (el.rot * Math.PI) / 180, 0, Math.PI * 2);
        ctx.stroke();
      }
      ctx.restore();
    },
  };
}

function Panel({ p }: { p: PanelDef }) {
  const ref = useRef<HTMLCanvasElement | null>(null);
  const colL = COL_LEFT[p.col];
  const colR = COL_RIGHT[p.col];
  const rowT = ROW_TOP[p.row];
  const rowB = ROW_BOTTOM[p.row];
  const cL = p.col === 0 ? 0 : colL - 16;
  const cR = p.col === 0 ? colR + 8 : colR + 10;
  const cT = rowT - 6;
  const cB = rowB + (p.row === 4 ? 46 : 6);
  const W = cR - cL;
  const H = cB - cT;

  useEffect(() => {
    if (!ref.current) return;
    const small = p.row >= 2;
    const datasets: any[] = [
      {
        label: "model-blue",
        data: xy(p.blueE, p.blueV),
        showLine: false,
        pointStyle: small ? "rect" : "rectRot",
        pointRadius: small ? 3.8 : 4.5,
        pointBackgroundColor: BLUE,
        pointBorderColor: BLUE,
        pointBorderWidth: 1,
        borderColor: BLUE,
        backgroundColor: BLUE,
        order: 1,
        errRel: p.blueErr,
        errColor: BLUE,
        errWidth: small ? 3 : 2.2,
        binHalf: small ? 2.6 : 0,
        binWidth: 4,
      },
      {
        label: "model-red",
        data: xy(p.redE, p.redV),
        showLine: true,
        pointRadius: 0,
        borderColor: RED,
        borderWidth: 1.6,
        order: 2,
      },
    ];
    if (p.blackLine) {
      datasets.push({
        label: "model-black",
        data: xy(p.blueE, p.blueV),
        showLine: true,
        pointRadius: 0,
        borderColor: "#000",
        borderWidth: 1.2,
        order: 3,
      });
    }
    datasets.push({
      label: "exp",
      data: xy(p.expE, p.expV),
      showLine: false,
      pointStyle: "rect",
      pointRadius: p.row < 2 ? 5 : 4.2,
      pointBackgroundColor: "#000",
      pointBorderColor: "#000",
      pointBorderWidth: 1,
      borderColor: "#000",
      backgroundColor: "#000",
      order: 4,
      errRel: p.expErr,
      errColor: "#000",
      errWidth: 1.6,
      capHalf: 4.5,
      binHalf: 2.8,
      binWidth: 3,
    });

    const chart = new Chart(ref.current, {
      type: "scatter",
      data: { datasets },
      options: {
        responsive: false,
        animation: false,
        devicePixelRatio: 1,
        events: [],
        layout: {
          padding: { left: colL - cL, right: cR - colR, top: rowT - cT, bottom: cB - rowB },
        },
        plugins: { legend: { display: false }, tooltip: { enabled: false } },
        scales: {
          x: { type: "linear", display: false, min: X_MIN, max: X_MAX },
          y: { type: "logarithmic", display: false, min: Y_MIN[p.row], max: Y_MAX[p.row] },
        },
      } as any,
      plugins: [makeDeco(p) as any],
    });
    return () => chart.destroy();
  }, []);

  return (
    <canvas
      ref={ref}
      width={W}
      height={H}
      style={{ position: "absolute", left: cL, top: cT, width: W, height: H }}
    />
  );
}

export default function App() {
  return (
    <div
      style={{
        position: "absolute",
        left: 0,
        top: 0,
        width: 669,
        height: 1111,
        overflow: "hidden",
        background: "#fff",
      }}
    >
      {PANELS.map((p, i) => (
        <Panel key={i} p={p} />
      ))}
      <div
        style={{
          position: "absolute",
          left: 400,
          top: 9,
          transform: "translateX(-50%) scaleX(0.84)",
          font: `bold 47px/47px ${FONT}`,
          whiteSpace: "nowrap",
          color: "#000",
        }}
      >
        P + Al
      </div>
      <div style={{ position: "absolute", left: 35.6, top: 555, width: 0, height: 0 }}>
        <div
          style={{
            position: "absolute",
            left: 0,
            top: 0,
            transform: "translate(-50%, -50%) rotate(-90deg)",
            font: `bold 31px/31px ${FONT}`,
            whiteSpace: "nowrap",
            color: "#111",
          }}
        >
          d
          <span style={{ fontSize: "0.62em", position: "relative", top: "-0.55em" }}>2</span>
          σ/dEdΩ[ mb / sr MeV]
        </div>
      </div>
      <div
        style={{
          position: "absolute",
          left: 0,
          width: 778,
          top: 1078,
          textAlign: "center",
          font: `bold 32px/32px ${FONT}`,
          whiteSpace: "nowrap",
          color: "#111",
        }}
      >
        E [ MeV ]
      </div>
    </div>
  );
}
